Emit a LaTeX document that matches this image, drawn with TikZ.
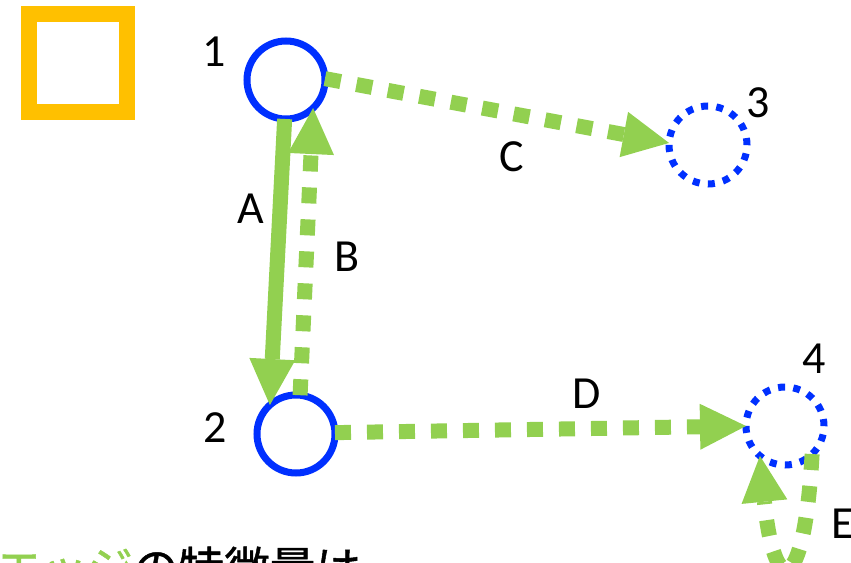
\documentclass[tikz,border=0pt]{standalone}
\usepackage{fontspec}
\setmainfont{Carlito}
\newfontfamily\jpfont[FakeBold=1]{Noto Sans CJK JP}
\usetikzlibrary{arrows.meta}
\definecolor{edgegreen}{RGB}{146,208,80}
\definecolor{nodeblue}{RGB}{0,48,255}
\definecolor{markorange}{RGB}{255,192,0}
\tikzset{
  vertex/.style={circle, draw=nodeblue, line width=7pt, minimum size=78pt,
    inner sep=0pt, outer sep=0pt},
  ghost/.style={vertex, dash pattern=on 7pt off 8.3pt},
  lbl/.style={font=\fontsize{46}{50}\selectfont, inner sep=0pt},
  edge/.style={draw=edgegreen, line width=15pt,
    -{Triangle[length=46pt,width=46pt,line width=0pt]}},
  dotedge/.style={edge, dash pattern=on 16pt off 16pt},
}
\begin{document}
\begin{tikzpicture}[x=1pt,y=-1pt]
\useasboundingbox (0,0) rectangle (851,562);
\clip (0,0) rectangle (851,562);

% marker square
\draw[markorange, line width=16pt] (29,14) rectangle (127,112);

% vertices
\node[vertex] (n1) at (286,80) {};
\node[vertex] (n2) at (296,434) {};
\node[ghost]  (n3) at (708,145) {};
\node[ghost]  (n4) at (785,426) {};

% vertex numbers
\node[lbl] (l1) at (214,52) {1};
\node[lbl] (l2) at (215,428) {2};
\node[lbl] (l3) at (758,103) {3};
\node[lbl] (l4) at (814,359) {4};

% edges
\draw[edge]    (n1.-92) -- (n2.132);
\draw[dotedge] (n2.84)  -- (n1.-46);
\draw[dotedge] (n1.2)   -- (n3.177);
\draw[dotedge] (n2.2)   -- (n4.180);
\draw[dotedge] (n4.-46) .. controls +(-8,145) and +(14,142) .. (n4.-130);

% edge names
\node[lbl] (la) at (251,209) {A};
\node[lbl] (lb) at (347,257) {B};
\node[lbl] (lc) at (512,157) {C};
\node[lbl] (ld) at (587,394) {D};
\node[lbl] (le) at (843,524) {E};

% caption
\node[anchor=base west, inner sep=0pt, font=\jpfont\fontsize{45.6}{50}\selectfont]
  (caption) at (-4,585) {\textcolor{edgegreen}{エッジ}の特徴量は};
\end{tikzpicture}
\end{document}
